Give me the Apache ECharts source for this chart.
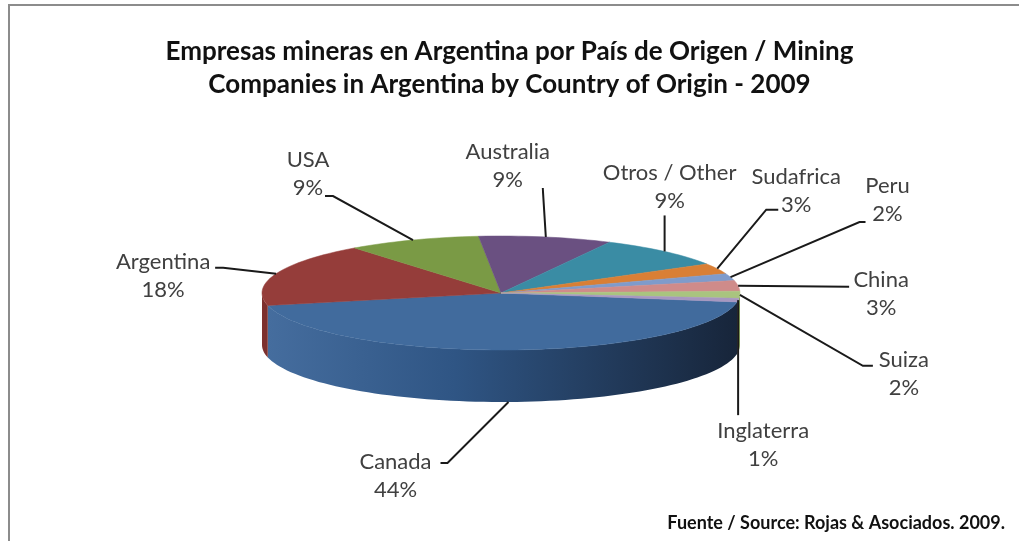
<!DOCTYPE html>
<html>
<head>
<meta charset="utf-8">
<script src="https://cdn.jsdelivr.net/npm/echarts@6/dist/echarts.min.js"></script>
<style>
  html, body { margin: 0; padding: 0; background: #fff; }
  #chart { width: 1019px; height: 541px; }
</style>
</head>
<body>
<div id="chart"></div>
<script>
// data, clockwise order as in the original Excel chart
const countries = ['Canada', 'Argentina', 'USA', 'Australia', 'Otros / Other', 'Sudafrica', 'Peru', 'China', 'Suiza', 'Inglaterra'];
const shares = [44, 18, 9, 9, 9, 3, 2, 3, 2, 1];

const topColors = ['#416b9d', '#953d3a', '#7a9a45', '#6a5081', '#3a8ca4', '#d97f35', '#7f9bcb', '#cf8b8a', '#a9c47f', '#a797c0'];
const sideColors = ['#2c4d78', '#7d302e', '#5f7a33', '#523d66', '#2a6e82', '#b0621f', '#5c78a8', '#a86a69', '#86a05c', '#8675a0'];

// label placement relative to each slice's anchor: [label dx, dy], leader points
const labelLayout = [
  { off: [-113, 74], lead: [[-61, 61], [-68, 61]] },
  { off: [-113, 2], lead: [[-53, -6], [-61, -6]] },
  { off: [-105, -66], lead: [[-80, -44], [-88, -44]] },
  { off: [-38, -71], lead: [[-3, -49]] },
  { off: [5, -65], lead: [[0, -36]] },
  { off: [79, -78], lead: [[49, -59], [61, -59]] },
  { off: [157, -77], lead: [[129, -55], [135, -55]] },
  { off: [143, 8], lead: [[111, 1]] },
  { off: [164, 79], lead: [[123, 71], [133, 71]] },
  { off: [25, 145], lead: [[0, 115]] }
];

const startAngle = 99; // degrees clockwise from 12 o'clock
const cx = 501, cy = 293, rx = 239, ry = 57, depth = 52;

const total = shares.reduce((a, b) => a + b, 0);
const angles = [];
let acc = startAngle;
shares.forEach(v => {
  const a0 = acc;
  acc += v / total * 360;
  angles.push([a0, acc]);
});

function pt(deg, dy) {
  const r = deg * Math.PI / 180;
  return [cx + rx * Math.sin(r), cy - ry * Math.cos(r) + (dy || 0)];
}

function arc(a0, a1, dy) {
  const pts = [];
  const n = Math.max(2, Math.ceil((a1 - a0) / 2));
  for (let k = 0; k <= n; k++) pts.push(pt(a0 + (a1 - a0) * k / n, dy));
  return pts;
}

function renderSlice(params, api) {
  const i = params.dataIndex;
  const [a0, a1] = angles[i];
  const children = [];

  // side wall: visible where the rim faces the viewer (90..270 deg)
  const ranges = [[90, 270], [450, 630]];
  ranges.forEach(([lo, hi]) => {
    const s0 = Math.max(a0, lo), s1 = Math.min(a1, hi);
    if (s1 <= s0) return;
    const top = arc(s0, s1, 0);
    const bottom = arc(s0, s1, depth).reverse();
    const p0 = pt(s0), p1 = pt(s1);
    children.push({
      type: 'polygon',
      z2: 1,
      shape: { points: top.concat(bottom) },
      style: {
        fill: i === 0 ? {
          type: 'linear', x: Math.min(p0[0], p1[0]), y: 0, x2: Math.max(p0[0], p1[0]), y2: 0, global: true,
          colorStops: [
            { offset: 0, color: '#456d9e' },
            { offset: 0.4, color: '#2f5584' },
            { offset: 1, color: '#17253a' }
          ]
        } : sideColors[i]
      }
    });
  });

  // top face
  children.push({
    type: 'polygon',
    z2: 10,
    shape: { points: [[cx, cy]].concat(arc(a0, a1, 0)) },
    style: { fill: topColors[i], stroke: topColors[i], lineWidth: 0.5 }
  });

  // leader line + label
  const mid = (a0 + a1) / 2;
  const m = ((mid % 360) + 360) % 360;
  const anchor = (m > 150 && m < 210) ? pt(mid, depth) : pt(mid, 0);
  const lay = labelLayout[i];
  const leadPts = [anchor].concat(lay.lead.map(d => [anchor[0] + d[0], anchor[1] + d[1]]));
  children.push({
    type: 'polyline',
    z2: 20,
    shape: { points: leadPts },
    style: { stroke: '#1a1a1a', lineWidth: 2, fill: null }
  });
  children.push({
    type: 'text',
    z2: 30,
    style: {
      text: countries[i] + '\n' + Math.round(api.value(0) / total * 100) + '%',
      x: anchor[0] + lay.off[0],
      y: anchor[1] + lay.off[1],
      align: 'center',
      verticalAlign: 'middle',
      font: '22px Lato, "Open Sans", sans-serif',
      lineHeight: 28,
      fill: '#404040'
    }
  });

  return { type: 'group', children };
}

const chart = echarts.init(document.getElementById('chart'));
chart.setOption({
  backgroundColor: '#fff',
  animation: false,
  title: {
    text: 'Empresas mineras en Argentina por País de Origen / Mining\nCompanies in Argentina by Country of Origin - 2009',
    left: 'center',
    top: 30,
    textStyle: {
      fontFamily: 'Lato, "Open Sans", sans-serif',
      fontSize: 26,
      fontWeight: 'bold',
      lineHeight: 33,
      color: '#111'
    }
  },
  graphic: [
    {
      type: 'rect',
      shape: { x: 9, y: 5, width: 1100, height: 600 },
      style: { fill: null, stroke: '#8c8c8c', lineWidth: 2 }
    },
    {
      type: 'text',
      right: 14,
      top: 514,
      style: {
        text: 'Fuente / Source: Rojas & Asociados. 2009.',
        font: 'bold 18px Lato, "Open Sans", sans-serif',
        fill: '#111'
      }
    }
  ],
  series: [{
    type: 'custom',
    coordinateSystem: 'none',
    data: shares,
    renderItem: renderSlice
  }]
});
</script>
</body>
</html>
